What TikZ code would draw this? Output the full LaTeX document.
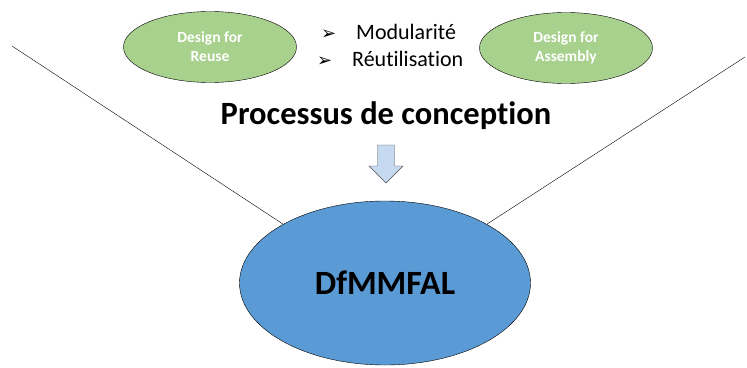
\documentclass[tikz,border=0pt]{standalone}
\usepackage{fontspec}
\setmainfont{Carlito}[Ligatures=NoCommon]
\newfontfamily\symfont{DejaVu Sans}
\usetikzlibrary{shapes.geometric, calc}
\definecolor{greenfill}{HTML}{A9D18E}
\definecolor{bluefill}{HTML}{5B9BD5}
\definecolor{arrowfill}{HTML}{C5D9F1}
\tikzset{every node/.style={align=center}}
\tikzset{greenell/.style={ellipse, draw=black, thin, fill=greenfill, text=white, inner sep=0pt, minimum width=173pt, minimum height=71pt, font=\fontsize{15.5}{19}\selectfont\bfseries}}
\tikzset{blueell/.style={ellipse, draw=black, thin, fill=bluefill, inner sep=0pt, minimum width=291pt, minimum height=164pt, font=\fontsize{34}{40}\selectfont\bfseries}}
\tikzset{line/.style={thin, black}}
\tikzset{bullet/.style={anchor=base west, inner sep=0pt, font=\fontsize{22}{24}\selectfont}}
\newcommand{\arrowbul}{\makebox[35pt][l]{\symfont\fontsize{18}{18}\selectfont ➢}}

\begin{document}
\begin{tikzpicture}[x=1pt, y=1pt]
		\useasboundingbox (0,0) rectangle (747,-367);

		% Coordinates
		\coordinate (L) at (12,-46);
		\coordinate (R) at (745,-57);
		\coordinate (T) at (386,-145);

		% Ellipses
		\node[greenell] (reuse) at (210,-47) {Design for\\Reuse};
		\node[greenell] (assembly) at (566,-48) {Design for\\Assembly};
		\node[blueell] (dfm) at (385,-283) {DfMMFAL};

		% Bullets
		\node[bullet] (mod) at (321,-39) {\arrowbul Modularité};
		\node[bullet] (reu) at (317,-66) {\arrowbul Réutilisation};

		% Title
		\node[font=\fontsize{32.5}{36}\selectfont\bfseries] (proc) at (386,-116) {Processus de conception};

		% Block arrow
		\draw[draw=black!70, fill=arrowfill] (T) ++(-8.5,0) -- ++(17,0) -- ++(0,-21) -- ++(8.5,0)
			-- ++(-17,-17) -- ++(-17,17) -- ++(8.5,0) -- cycle;

		% Lines
		\draw[line] (L) -- (dfm.150);
		\draw[line] (R) -- (dfm.30);
	\end{tikzpicture}
\end{document}
